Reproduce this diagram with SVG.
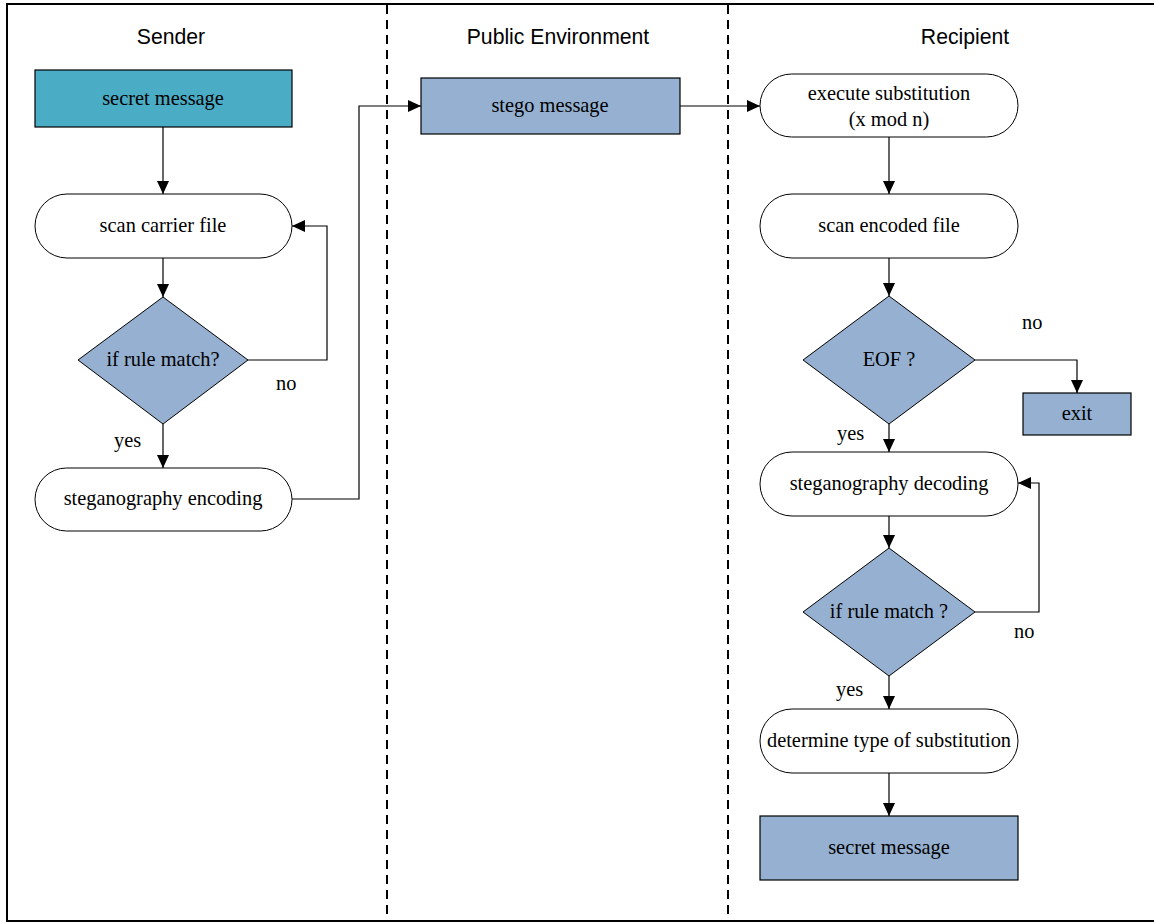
<svg xmlns="http://www.w3.org/2000/svg" width="1154" height="924" viewBox="0 0 1154 924">
<defs>
<marker id="arr" markerUnits="userSpaceOnUse" markerWidth="14" markerHeight="12" refX="13" refY="6" orient="auto">
<path d="M0,0 L13,6 L0,12 Z" fill="#000"/>
</marker>
<style>
.lane{font-family:"Liberation Sans",Arial,sans-serif;font-size:21.2px;fill:#000;text-anchor:middle}
.t{font-family:"Liberation Serif","Times New Roman",serif;font-size:20.4px;fill:#000;text-anchor:middle}
.lbl{font-family:"Liberation Serif","Times New Roman",serif;font-size:20.4px;fill:#000}
.term{fill:#fff;stroke:#000;stroke-width:1}
.teal{fill:#4BACC6;stroke:#000;stroke-width:1.2}
.blue{fill:#95B0D0;stroke:#000;stroke-width:1.2}
.dec{fill:#95B0D0;stroke:#000;stroke-width:1}
.c{fill:none;stroke:#000;stroke-width:1.2}
.div{stroke:#000;stroke-width:2;stroke-dasharray:9,6}
</style>
</defs>
<rect x="0" y="0" width="1154" height="924" fill="#fff"/>
<rect x="7" y="4" width="1150" height="917" fill="none" stroke="#000" stroke-width="2"/>
<line class="div" x1="387" y1="5" x2="387" y2="920"/>
<line class="div" x1="728" y1="5" x2="728" y2="920"/>
<text class="lane" x="171" y="44">Sender</text>
<text class="lane" x="558" y="44">Public Environment</text>
<text class="lane" x="965" y="44">Recipient</text>

<g id="s_secret"><rect class="teal" x="35" y="70" width="257" height="57"/><text class="t" x="163" y="105">secret message</text></g>
<g id="s_scan"><rect class="term" x="35" y="194" width="257" height="64" rx="32"/><text class="t" x="163" y="232">scan carrier file</text></g>
<g id="s_rule"><polygon class="dec" points="163,297 248,360 163,424 78,360"/><text class="t" x="163" y="366">if rule match?</text></g>
<g id="s_enc"><rect class="term" x="35" y="468" width="257" height="63" rx="31.5"/><text class="t" x="163" y="505">steganography encoding</text></g>

<g id="p_stego"><rect class="blue" x="421" y="78" width="259" height="56"/><text class="t" x="550" y="112">stego message</text></g>

<g id="r_exec"><rect class="term" x="760" y="74" width="258" height="63" rx="31.5"/><text class="t" x="889" y="100">execute substitution</text><text class="t" x="889" y="126">(x mod n)</text></g>
<g id="r_scan"><rect class="term" x="760" y="194" width="258" height="64" rx="32"/><text class="t" x="889" y="232">scan encoded file</text></g>
<g id="r_eof"><polygon class="dec" points="889,296 975,360 889,424 803,360"/><text class="t" x="889" y="366">EOF ?</text></g>
<g id="r_exit"><rect class="blue" x="1023" y="393" width="108" height="42"/><text class="t" x="1077" y="420">exit</text></g>
<g id="r_dec"><rect class="term" x="760" y="452" width="258" height="64" rx="32"/><text class="t" x="889" y="490">steganography decoding</text></g>
<g id="r_rule"><polygon class="dec" points="889,548 975,612 889,676 803,612"/><text class="t" x="889" y="618">if rule match ?</text></g>
<g id="r_det"><rect class="term" x="760" y="709" width="258" height="64" rx="32"/><text class="t" x="889" y="747">determine type of substitution</text></g>
<g id="r_secret"><rect class="blue" x="760" y="816" width="258" height="64"/><text class="t" x="889" y="854">secret message</text></g>

<g id="connectors">
<path class="c" d="M163,127 V194" marker-end="url(#arr)"/>
<path class="c" d="M163,258 V297" marker-end="url(#arr)"/>
<path class="c" d="M163,424 V468" marker-end="url(#arr)"/>
<path class="c" d="M248,360 H327 V226 H292" marker-end="url(#arr)"/>
<path class="c" d="M292,499 H359 V106 H421" marker-end="url(#arr)"/>
<path class="c" d="M680,106 H760" marker-end="url(#arr)"/>
<path class="c" d="M889,137 V194" marker-end="url(#arr)"/>
<path class="c" d="M889,258 V296" marker-end="url(#arr)"/>
<path class="c" d="M975,360 H1077 V393" marker-end="url(#arr)"/>
<path class="c" d="M889,424 V452" marker-end="url(#arr)"/>
<path class="c" d="M889,516 V548" marker-end="url(#arr)"/>
<path class="c" d="M975,612 H1039 V483 H1018" marker-end="url(#arr)"/>
<path class="c" d="M889,676 V709" marker-end="url(#arr)"/>
<path class="c" d="M889,773 V816" marker-end="url(#arr)"/>
<text class="lbl" x="276" y="390">no</text>
<text class="lbl" x="114" y="447">yes</text>
<text class="lbl" x="1022" y="329">no</text>
<text class="lbl" x="837" y="440">yes</text>
<text class="lbl" x="1014" y="638">no</text>
<text class="lbl" x="836" y="696">yes</text>
</g>
</svg>
